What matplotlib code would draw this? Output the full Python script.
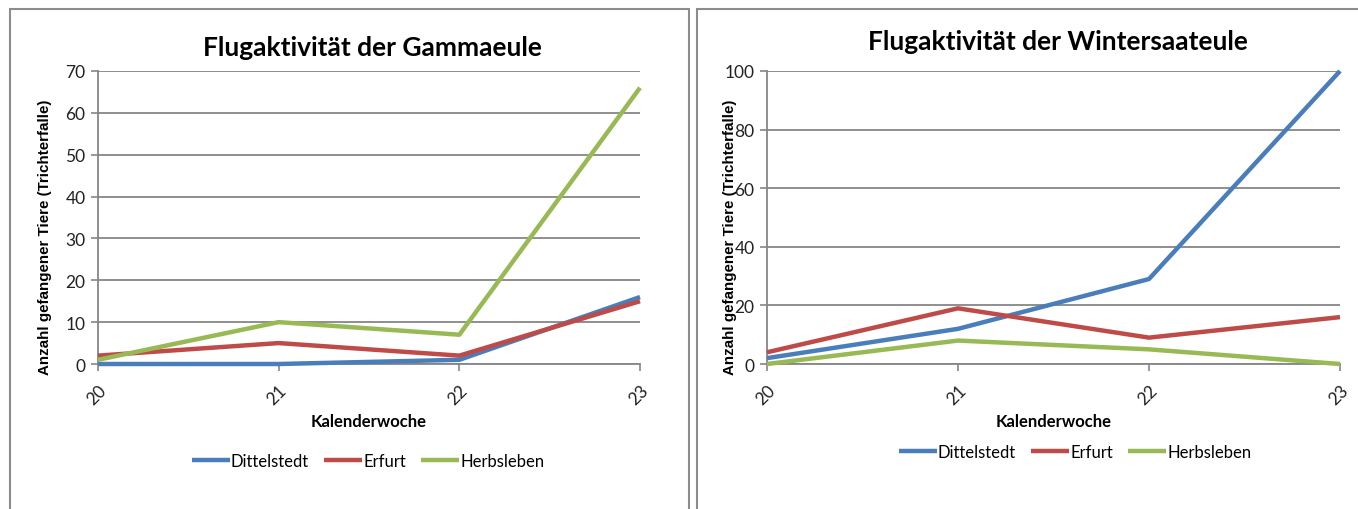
#!/usr/bin/env python3

# flight activity of two owlet moth species, caught in funnel traps

import matplotlib.pyplot as plt
from matplotlib.patches import Rectangle

plt.rcParams["font.family"] = ["Lato", "DejaVu Sans"]

# excel 2007 default series colours
color_blue = "#4a7ebb"
color_red = "#be4b48"
color_green = "#98b954"
color_grid = "#868686"

weeks = ["20", "21", "22", "23"]
sites = ["Dittelstedt", "Erfurt", "Herbsleben"]

# Gammaeule
gamma_dittelstedt = [0, 0, 1, 16]
gamma_erfurt = [2, 5, 2, 15]
gamma_herbsleben = [1, 10, 7, 66]

# Wintersaateule
winter_dittelstedt = [2, 12, 29, 100]
winter_erfurt = [4, 19, 9, 16]
winter_herbsleben = [0, 8, 5, 0]


def plot_panel(fig, rect, title, series, ymax, ystep, title_xy, legend_xy, ylabel_xy):
    """Draw one excel-style line chart into the given figure rectangle."""
    ax = fig.add_axes(rect)
    x = range(len(weeks))
    for values, color, label in zip(series, [color_blue, color_red, color_green], sites):
        ax.plot(x, values, color=color, linewidth=3.2, label=label,
                solid_capstyle="butt", clip_on=False, zorder=3)

    ax.set_xlim(0, len(weeks) - 1)
    ax.set_ylim(0, ymax)
    ax.set_yticks(range(0, ymax + 1, ystep))
    ax.set_xticks(list(x))
    ax.set_xticklabels(weeks, rotation=45, ha="right", va="top", rotation_mode="anchor")
    ax.tick_params(axis="both", labelsize=12.5, color=color_grid, length=5, width=1.2,
                   labelcolor="#222222")
    ax.tick_params(axis="x", direction="out", pad=8)
    ax.tick_params(axis="y", pad=4)

    ax.yaxis.grid(True, color=color_grid, linewidth=1.3)
    ax.set_axisbelow(True)
    for side in ["top", "right"]:
        ax.spines[side].set_visible(False)
    for side in ["left", "bottom"]:
        ax.spines[side].set_color(color_grid)
        ax.spines[side].set_linewidth(1.3)

    ax.set_xlabel("Kalenderwoche", fontsize=12, fontweight="bold", labelpad=4)
    fig.text(ylabel_xy[0], ylabel_xy[1], "Anzahl gefangener Tiere (Trichterfalle)",
             rotation=90, ha="center", va="center", fontsize=10.9, fontweight="bold",
             family=["Liberation Sans", "DejaVu Sans"])
    fig.text(title_xy[0], title_xy[1], title, ha="center", va="center",
             fontsize=19, fontweight="bold")

    ax.legend(loc="center", bbox_to_anchor=legend_xy, bbox_transform=fig.transFigure,
              ncol=3, frameon=False, fontsize=12, handlelength=2.3, handletextpad=0.05,
              columnspacing=0.9)
    return ax


def main():
    fig = plt.figure(figsize=(13.58, 5.10), dpi=100)
    W, H = 1358, 510

    # chart area borders
    for x0, x1 in [(10, 689), (697, 1365)]:
        fig.patches.append(Rectangle((x0 / W, -0.1), (x1 - x0) / W, 1.1 - 10 / H,
                                     transform=fig.transFigure, fill=False,
                                     edgecolor="#8c8c8c", linewidth=1.5))

    bottom = 1 - 365 / H
    height = (365 - 72) / H

    plot_panel(fig, [98 / W, bottom, (640 - 98) / W, height],
               "Flugaktivität der Gammaeule",
               [gamma_dittelstedt, gamma_erfurt, gamma_herbsleben], 70, 10,
               (372 / W, 1 - 48 / H), (368 / W, 1 - 462 / H), (45 / W, 1 - 237 / H))
    plot_panel(fig, [767 / W, bottom, (1340 - 767) / W, height],
               "Flugaktivität der Wintersaateule",
               [winter_dittelstedt, winter_erfurt, winter_herbsleben], 100, 20,
               (1058 / W, 1 - 42 / H), (1075 / W, 1 - 453 / H), (730 / W, 1 - 237 / H))

    fig.savefig("out.png", dpi=100)


if __name__ == "__main__":
    main()
